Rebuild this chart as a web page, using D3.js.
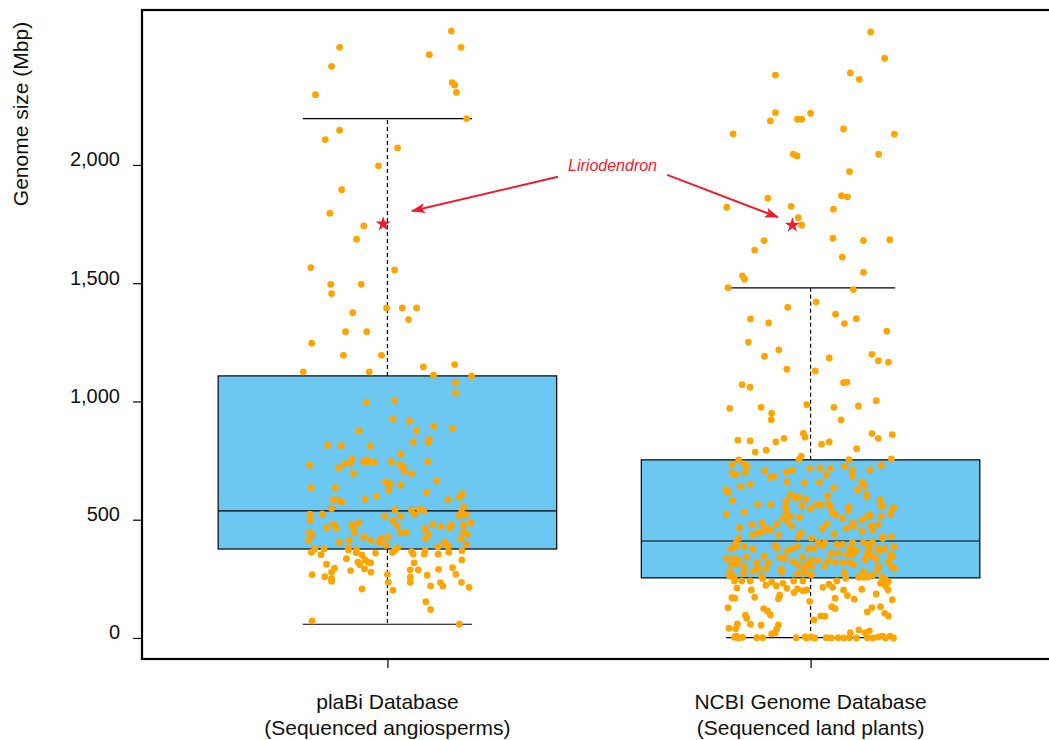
<!DOCTYPE html>
<html><head><meta charset="utf-8">
<script src="https://cdn.jsdelivr.net/npm/d3@7"></script>
<style>body{margin:0;background:#fff}svg{display:block}text{font-family:"Liberation Sans",Arial,sans-serif}</style>
</head><body><svg id="c" width="1049" height="740"></svg>
<script>
// ---- data ----
const categories = ["plaBi Database", "NCBI Genome Database"];
const subtitles = ["(Sequenced angiosperms)", "(Sequenced land plants)"];
const whiskerLow = [58, 1];
const quartile1 = [376, 254];
const medians = [537, 410];
const quartile3 = [1108, 753];
const whiskerHigh = [2196, 1480];
const yTicks = [0, 500, 1000, 1500, 2000];

const plabiSize = [2566,2497,2497,2466,2417,2348,2337,2307,2297,2196,2147,2107,2072,1996,1895,1796,1742,1686,1566,1556,1495,1495,1456,1395,1395,1395,1375,1346,1295,1295,1246,1195,1195,1146,1156,1125,1125,1111,1108,1079,1036,997,1005,925,917,895,885,875,875,829,838,826,815,813,812,778,756,745,753,743,744,745,745,731,736,739,720,733,724,705,695,695,660,652,664,635,635,646,626,616,610,595,585,583,574,586,600,585,553,547,541,540,544,537,521,523,524,513,516,520,517,531,496,495,486,478,477,466,471,481,475,486,477,481,465,466,468,462,448,440,438,445,445,445,445,435,414,426,414,420,426,419,419,414,405,403,392,397,406,393,386,386,382,373,376,376,362,352,372,381,371,362,365,355,369,354,354,362,369,330,359,350,361,335,330,321,317,321,310,312,317,297,290,288,288,295,278,285,292,278,268,259,269,265,269,257,251,240,235,235,234,220,235,220,214,207,202,153,120,72,58];
const plabiJitter = [0.151,0.174,-0.113,0.099,-0.132,0.153,0.159,0.163,-0.170,0.187,-0.113,-0.147,0.024,-0.021,-0.108,-0.136,-0.056,-0.073,-0.181,0.017,-0.134,-0.062,-0.132,-0.002,0.035,0.069,-0.082,0.050,-0.099,-0.049,-0.179,-0.104,-0.014,0.085,0.159,-0.199,-0.043,0.109,0.199,0.161,0.161,-0.050,0.017,0.013,0.052,0.109,0.154,0.069,-0.067,0.061,0.099,0.096,-0.141,-0.109,-0.041,0.032,-0.084,-0.056,-0.048,-0.044,-0.030,0.009,0.095,-0.184,-0.102,-0.087,-0.116,0.029,0.037,0.039,0.057,-0.080,-0.005,0.006,0.117,-0.180,-0.123,0.032,0.003,0.092,0.178,0.170,-0.128,-0.114,-0.108,-0.053,-0.026,0.143,0.180,-0.132,0.018,0.057,0.076,0.086,0.064,-0.183,-0.154,0.031,-0.007,0.186,0.170,0.175,0.012,-0.183,0.198,0.180,0.151,0.147,0.127,0.107,0.023,-0.067,-0.084,-0.127,-0.121,-0.144,-0.081,0.087,0.180,0.096,0.189,0.031,0.044,-0.078,-0.184,-0.179,-0.187,-0.056,-0.039,-0.015,0.001,0.090,0.174,-0.090,-0.114,-0.019,-0.004,0.187,0.134,0.139,0.119,0.144,-0.093,-0.073,-0.150,-0.172,-0.180,-0.157,-0.092,0.024,0.018,0.012,0.057,0.061,0.089,0.087,0.120,0.145,0.176,0.176,-0.028,-0.060,-0.074,-0.097,-0.053,-0.046,-0.040,-0.070,-0.065,-0.144,0.063,0.154,0.121,0.073,0.054,-0.125,-0.132,-0.087,-0.054,-0.039,-0.178,-0.148,0,0.094,0.162,0.054,-0.132,-0.132,0.002,0.054,0.125,0.131,0.175,0.102,0.193,-0.060,0.013,0.091,0.102,-0.178,0.170];

const ncbiSize = [2562,2451,2380,2389,2362,2221,2186,2193,2193,2218,2131,2152,2130,2045,2038,2045,1972,1859,1870,1865,1821,1825,1813,1777,1745,1680,1690,1680,1684,1640,1610,1546,1531,1517,1481,1473,1421,1398,1349,1332,1369,1350,1329,1297,1251,1218,1191,1184,1199,1172,1166,1136,1129,1071,1060,1079,1082,971,975,950,923,986,975,981,1003,922,836,833,829,844,865,849,819,829,864,844,860,800,786,794,769,756,753,754,757,734,736,726,696,692,699,705,702,709,716,719,716,724,710,710,730,689,686,678,684,660,655,657,660,643,641,650,635,627,616,627,581,605,592,596,588,602,606,597,585,578,564,564,559,564,561,568,557,554,562,554,550,553,545,524,533,533,530,520,537,507,499,517,517,513,523,545,507,496,512,510,475,481,479,485,466,458,460,444,434,448,434,443,426,422,461,482,440,462,485,471,451,457,479,474,428,428,422,400,386,375,376,386,390,379,367,379,386,376,379,403,390,402,396,396,403,403,397,406,420,386,379,369,375,375,379,368,358,358,355,351,351,344,355,344,337,337,330,341,347,341,334,324,341,330,327,327,321,318,318,309,330,333,323,313,312,321,318,304,295,292,290,307,312,288,301,304,301,301,292,280,274,283,280,271,274,266,276,280,288,262,257,262,251,241,241,241,237,231,241,241,241,252,257,257,257,266,257,245,238,231,227,214,214,223,220,210,211,203,207,200,203,203,179,206,186,203,220,182,166,192,172,170,168,164,168,162,155,128,124,114,97,132,124,128,132,110,104,93,96,83,93,92,76,59,58,54,55,37,41,39,17,20,22,34,22,30,3,0,3,1,1,1,4,0,4,0,1,0,1,0,1,0,1,0,4,8,0,8,0,8];
const ncbiJitter = [0.142,0.175,-0.083,0.094,0.115,-0.083,-0.095,-0.031,-0.021,0,-0.183,0.078,0.198,-0.041,-0.032,0.161,0.092,-0.101,0.073,0.087,-0.198,-0.046,0.054,-0.029,-0.021,-0.110,0.053,0.125,0.187,-0.132,0.075,0.125,-0.161,-0.156,-0.195,0.101,0.013,-0.054,-0.142,-0.099,0.059,0.108,0.080,0.180,-0.147,-0.075,-0.109,0.044,0.145,0.160,0.184,-0.056,0.011,-0.162,-0.143,0.078,0.086,-0.191,-0.117,-0.092,-0.093,-0.009,0.055,0.113,0.155,0.072,-0.172,-0.143,-0.082,-0.063,-0.017,-0.013,0.026,0.044,0.145,0.160,0.193,0.109,-0.131,-0.105,-0.022,-0.027,-0.170,0.091,0.191,-0.186,-0.157,-0.150,-0.186,-0.176,-0.154,-0.109,-0.058,-0.043,-0.002,0.022,0.047,0.081,0.099,0.140,0.167,0.036,0.099,-0.095,-0.087,-0.056,-0.015,0.021,0.121,0.128,-0.165,-0.143,0.055,-0.200,-0.195,0.111,-0.185,-0.047,-0.037,-0.029,-0.012,0.040,0.132,0.133,0.165,-0.058,-0.125,-0.095,-0.021,0.013,0.024,0.041,0.046,0.091,0.165,0.171,0.196,-0.059,-0.001,-0.199,-0.157,-0.057,0.051,0.059,0.089,0.075,0.121,0.141,0.135,0.167,0.189,0.195,-0.067,-0.059,-0.047,-0.026,-0.045,-0.080,-0.139,-0.115,-0.168,-0.095,-0.106,-0.124,-0.138,-0.116,-0.076,-0.022,-0.029,0.002,0.027,0.039,0.055,0.084,0.099,0.102,0.122,0.147,0.159,0.143,0.169,0.191,-0.170,-0.177,-0.156,-0.136,-0.188,-0.176,-0.083,-0.079,-0.055,-0.043,-0.031,-0.005,0.008,0.018,0.029,0.034,0.062,0.076,0.099,0.125,0.135,0.146,0.171,0.197,0.094,0.108,0.139,0.159,0.175,0.166,0.049,0.065,0.086,0.100,0.132,0.147,0.189,0.193,-0.199,-0.181,-0.171,-0.151,-0.110,-0.073,-0.061,-0.041,-0.020,0.002,0.018,0.041,0.058,0.076,0.092,0.102,0.129,0.155,0.183,-0.187,-0.174,-0.127,-0.099,-0.157,-0.123,-0.105,-0.069,-0.029,-0.010,-0.016,0.002,0.033,0.161,0.192,0.199,-0.191,-0.158,-0.135,-0.068,-0.031,-0.012,0.002,0.079,0.125,0.159,-0.191,-0.181,-0.116,-0.113,-0.180,-0.163,-0.143,-0.092,-0.065,-0.040,-0.018,0.062,0.083,0.114,0.126,0.135,0.147,0.169,0.177,0.184,0.165,0.044,0.029,0.052,-0.106,-0.081,-0.056,-0.174,-0.140,-0.031,-0.018,-0.009,0.078,0.087,0.121,0.155,0.183,0.177,-0.073,-0.076,-0.039,-0.132,-0.186,-0.179,0.103,0.058,0.193,-0.002,-0.195,-0.111,-0.102,-0.095,0.050,0.058,0.145,0.165,0.134,0.175,0.184,-0.154,-0.151,0.024,0.034,0.008,-0.173,-0.142,-0.117,-0.076,-0.080,-0.193,-0.177,-0.092,-0.084,0.094,0.114,0.129,0.139,-0.180,-0.170,-0.161,-0.127,-0.113,-0.034,-0.013,-0.009,0.001,0.010,0.037,0.049,0.065,0.078,0.091,0.108,0.134,0.147,0.160,0.170,0.177,0.188,0.196,-0.176];

const highlightName = "Liriodendron";
const highlightSize = [1750, 1745];
const highlightJitter = [-0.010, -0.043];
// annotation anchors in data units [category position, Mbp]
const labelAt = [1.532, 1996];
const arrowFrom = [[1.403, 1950], [1.661, 1958]];
const arrowTo = [[1.058, 1805], [1.923, 1779]];

// ---- drawing ----
const svg = d3.select("#c");
const x = d3.scaleLinear().domain([0.42, 2.58]).range([142, 1056]);
const y = d3.scaleLinear().domain([-89, 2655]).range([659, 10]);
const boxHalf = 0.4, capHalf = 0.2;

const stats = categories.map((c, i) => ({i, pos: i + 1, lo: whiskerLow[i], q1: quartile1[i], med: medians[i], q3: quartile3[i], hi: whiskerHigh[i]}));

const g = svg.append("g");
g.selectAll("rect.box").data(stats).join("rect").attr("class", "box")
  .attr("x", d => x(d.pos - boxHalf)).attr("width", d => x(d.pos + boxHalf) - x(d.pos - boxHalf))
  .attr("y", d => y(d.q3)).attr("height", d => y(d.q1) - y(d.q3))
  .attr("fill", "#6cc7f0").attr("stroke", "#000").attr("stroke-width", 1.2);
g.selectAll("line.med").data(stats).join("line")
  .attr("x1", d => x(d.pos - boxHalf)).attr("x2", d => x(d.pos + boxHalf))
  .attr("y1", d => y(d.med)).attr("y2", d => y(d.med)).attr("stroke", "#000").attr("stroke-width", 1.2);
stats.forEach(d => {
  [[d.q3, d.hi], [d.q1, d.lo]].forEach(([a, b]) => {
    g.append("line").attr("x1", x(d.pos)).attr("x2", x(d.pos)).attr("y1", y(a)).attr("y2", y(b))
      .attr("stroke", "#000").attr("stroke-width", 1.2).attr("stroke-dasharray", "4,3");
  });
  [d.hi, d.lo].forEach(v => {
    g.append("line").attr("x1", x(d.pos - capHalf)).attr("x2", x(d.pos + capHalf)).attr("y1", y(v)).attr("y2", y(v))
      .attr("stroke", "#000").attr("stroke-width", 1.2);
  });
});

const pts = [];
plabiSize.forEach((v, k) => pts.push({pos: 1 + plabiJitter[k], v}));
ncbiSize.forEach((v, k) => pts.push({pos: 2 + ncbiJitter[k], v}));
g.selectAll("circle.pt").data(pts).join("circle").attr("class", "pt")
  .attr("cx", d => x(d.pos)).attr("cy", d => y(d.v)).attr("r", 3.4).attr("fill", "#ffa500");

const red = "#ee1c2e";
g.selectAll("path.star").data(highlightSize).join("path").attr("class", "star")
  .attr("transform", (v, i) => `translate(${x(i + 1 + highlightJitter[i])},${y(v)})`)
  .attr("d", d3.symbol(d3.symbolStar, 70)).attr("fill", red);

// annotation
const defs = svg.append("defs");
defs.append("marker").attr("id", "ah").attr("viewBox", "0 0 14 10").attr("refX", 13).attr("refY", 5)
  .attr("markerWidth", 14).attr("markerHeight", 10).attr("markerUnits", "userSpaceOnUse").attr("orient", "auto")
  .append("path").attr("d", "M0,0 L14,5 L0,10 L3,5 Z").attr("fill", red);
arrowFrom.forEach((f, i) => {
  svg.append("line").attr("x1", x(f[0])).attr("y1", y(f[1])).attr("x2", x(arrowTo[i][0])).attr("y2", y(arrowTo[i][1]))
    .attr("stroke", red).attr("stroke-width", 2).attr("marker-end", "url(#ah)");
});
svg.append("text").attr("x", x(labelAt[0])).attr("y", y(labelAt[1])).attr("dy", "0.35em")
  .attr("text-anchor", "middle").attr("font-style", "italic").attr("font-size", 16).attr("fill", red).text(highlightName);

// frame
svg.append("rect").attr("x", x(0.42)).attr("y", y(2655)).attr("width", x(2.58) - x(0.42)).attr("height", y(-89) - y(2655))
  .attr("fill", "none").attr("stroke", "#000").attr("stroke-width", 2.2);

// axes
const ya = svg.append("g").attr("transform", `translate(${x(0.42)},0)`)
  .call(d3.axisLeft(y).tickValues(yTicks).tickSize(9).tickPadding(13).tickFormat(d3.format(",")));
ya.select(".domain").remove();
ya.selectAll("line").attr("stroke", "#000").attr("stroke-width", 1.2);
ya.selectAll("text").attr("font-size", 20).attr("fill", "#111").attr("dy", "0.05em")
  .attr("font-family", "'Liberation Sans',Arial,sans-serif");

const xa = svg.append("g").attr("transform", `translate(0,${y(-89)})`)
  .call(d3.axisBottom(x).tickValues([1, 2]).tickSize(9).tickFormat(""));
xa.select(".domain").remove();
xa.selectAll("line").attr("stroke", "#000").attr("stroke-width", 1.2);

categories.forEach((c, i) => {
  const t = svg.append("text").attr("x", x(i + 1)).attr("text-anchor", "middle").attr("font-size", 21).attr("fill", "#111");
  t.append("tspan").attr("x", x(i + 1)).attr("y", 709).text(c);
  t.append("tspan").attr("x", x(i + 1)).attr("y", 735).text(subtitles[i]);
});

svg.append("text").attr("transform", "translate(28,114) rotate(-90)").attr("text-anchor", "middle")
  .attr("font-size", 21).attr("fill", "#111").text("Genome size (Mbp)");
</script>
</body></html>
